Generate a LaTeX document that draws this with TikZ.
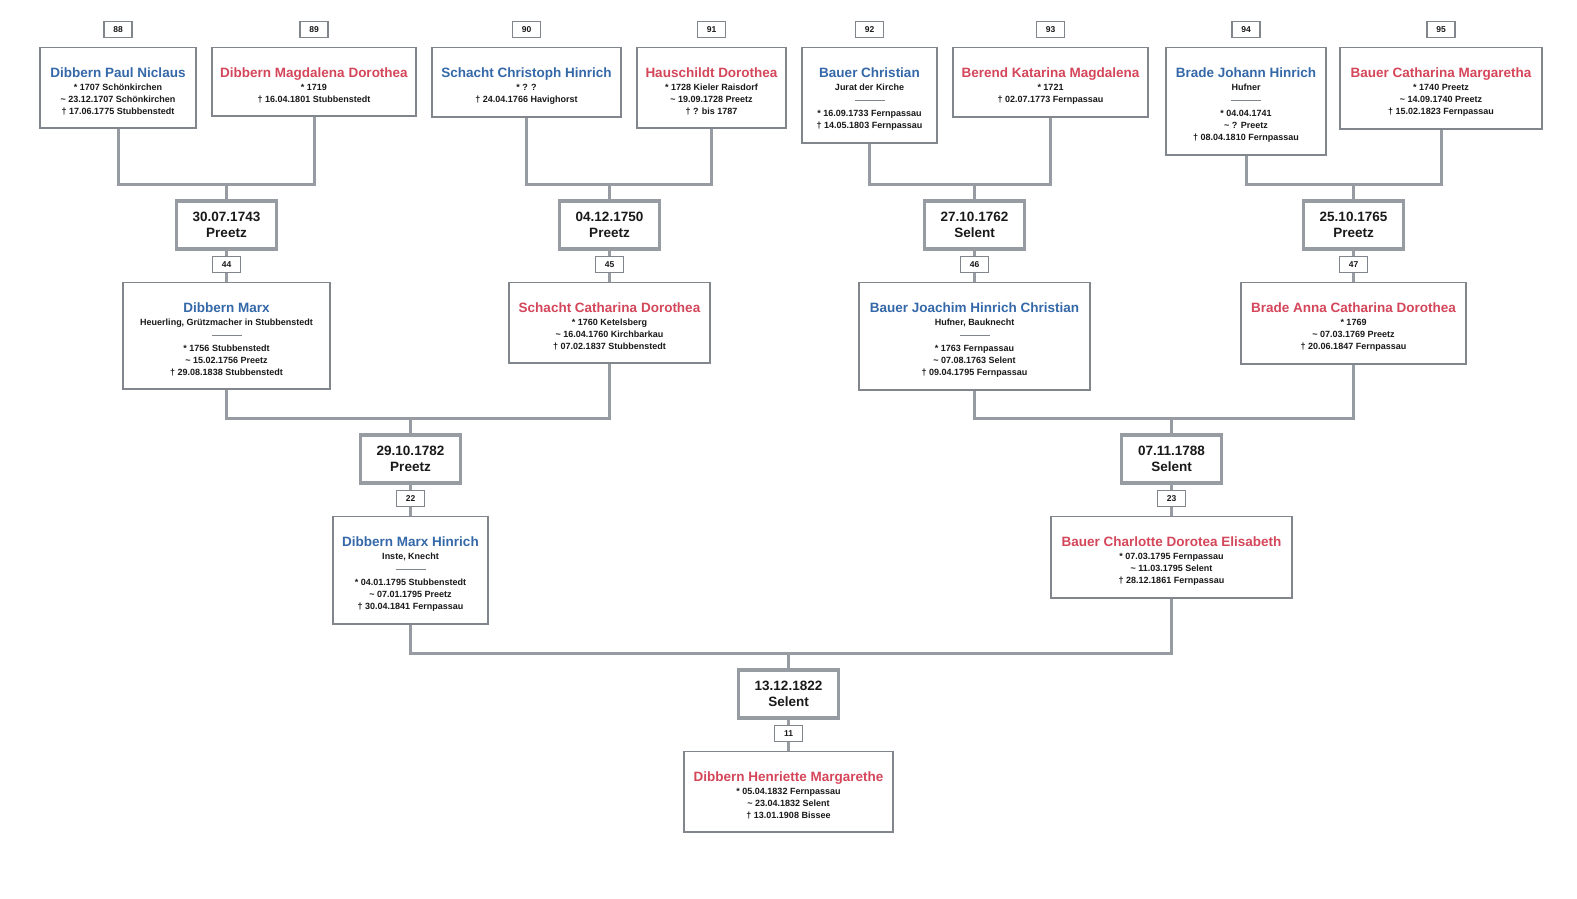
\documentclass[tikz,border=0pt]{standalone}
\usepackage{fontspec}
\setmainfont{Liberation Sans}
\usetikzlibrary{positioning}
\definecolor{ahnblau}{RGB}{52,104,168}
\definecolor{ahnrot}{RGB}{212,70,90}
\definecolor{rahmen}{RGB}{128,134,140}
\definecolor{linie}{RGB}{150,156,162}
\definecolor{schrift}{RGB}{25,25,25}
\newcommand{\mann}[1]{\rule{0pt}{17.5pt}{\fontsize{13.5}{15}\selectfont\color{ahnblau}#1}}
\newcommand{\frau}[1]{\rule{0pt}{17.5pt}{\fontsize{13.5}{15}\selectfont\color{ahnrot}#1}}
\newcommand{\strich}{\textcolor{rahmen}{\rule[3pt]{30pt}{0.8pt}}}
\newcommand{\taufe}{\textasciitilde}
\tikzset{
  person/.style={
    draw=rahmen, line width=1.4pt, fill=white, text=schrift,
    font=\fontsize{9}{12}\selectfont\bfseries, align=center,
    minimum width=#1, inner xsep=8pt, inner ysep=12.5pt, anchor=north
  },
  wedding/.style={
    draw=linie, line width=3.5pt, fill=white, text=schrift,
    font=\fontsize{13.5}{16}\selectfont\bfseries, align=center,
    minimum width=100pt, minimum height=48pt, inner sep=2pt
  },
  nummer/.style={
    draw=rahmen, line width=1.2pt, fill=white, text=schrift,
    font=\fontsize{8.5}{10}\selectfont\bfseries,
    minimum width=28pt, minimum height=16pt, inner sep=0pt
  },
  link/.style={draw=linie, line width=3pt}
}

\begin{document}
\begin{tikzpicture}[x=1pt, y=-1pt]
  \useasboundingbox[fill=white] (0,0) rectangle (1577,898);

  \node[person=156] (p88) at (118,47) {\mann{Dibbern Paul Niclaus}\\[1pt]* 1707 Schönkirchen\\\taufe{} 23.12.1707 Schönkirchen\\† 17.06.1775 Stubbenstedt};
  \node[person=204] (p89) at (314,47) {\frau{Dibbern Magdalena Dorothea}\\[1pt]* 1719\\† 16.04.1801 Stubbenstedt};
  \node[person=189] (p90) at (526.5,47) {\mann{Schacht Christoph Hinrich}\\[1pt]* ? ?\\† 24.04.1766 Havighorst};
  \node[person=149] (p91) at (711.5,47) {\frau{Hauschildt Dorothea}\\[1pt]* 1728 Kieler Raisdorf\\\taufe{} 19.09.1728 Preetz\\† ? bis 1787};
  \node[person=135] (p92) at (869.5,47) {\mann{Bauer Christian}\\[1pt]Jurat der Kirche\\[1pt]\strich\\[1pt]* 16.09.1733 Fernpassau\\† 14.05.1803 Fernpassau};
  \node[person=195] (p93) at (1050.5,47) {\frau{Berend Katarina Magdalena}\\[1pt]* 1721\\† 02.07.1773 Fernpassau};
  \node[person=160] (p94) at (1246,47) {\mann{Brade Johann Hinrich}\\[1pt]Hufner\\[1pt]\strich\\[1pt]* 04.04.1741\\\taufe{} ? Preetz\\† 08.04.1810 Fernpassau};
  \node[person=202] (p95) at (1441,47) {\frau{Bauer Catharina Margaretha}\\[1pt]* 1740 Preetz\\\taufe{} 14.09.1740 Preetz\\† 15.02.1823 Fernpassau};

  \node[nummer, above=9pt of p88] (n88) {88};
  \node[nummer, above=9pt of p89] (n89) {89};
  \node[nummer, above=9pt of p90] (n90) {90};
  \node[nummer, above=9pt of p91] (n91) {91};
  \node[nummer, above=9pt of p92] (n92) {92};
  \node[nummer, above=9pt of p93] (n93) {93};
  \node[nummer, above=9pt of p94] (n94) {94};
  \node[nummer, above=9pt of p95] (n95) {95};

  \node[person=207] (p44) at (226.5,282) {\mann{Dibbern Marx}\\[1pt]Heuerling, Grützmacher in Stubbenstedt\\[1pt]\strich\\[1pt]* 1756 Stubbenstedt\\\taufe{} 15.02.1756 Preetz\\† 29.08.1838 Stubbenstedt};
  \node[person=201] (p45) at (609.5,282) {\frau{Schacht Catharina Dorothea}\\[1pt]* 1760 Ketelsberg\\\taufe{} 16.04.1760 Kirchbarkau\\† 07.02.1837 Stubbenstedt};
  \node[person=231] (p46) at (974.5,282) {\mann{Bauer Joachim Hinrich Christian}\\[1pt]Hufner, Bauknecht\\[1pt]\strich\\[1pt]* 1763 Fernpassau\\\taufe{} 07.08.1763 Selent\\† 09.04.1795 Fernpassau};
  \node[person=225] (p47) at (1353.5,282) {\frau{Brade Anna Catharina Dorothea}\\[1pt]* 1769\\\taufe{} 07.03.1769 Preetz\\† 20.06.1847 Fernpassau};

  \node[nummer, above=9pt of p44] (n44) {44};
  \node[nummer, above=9pt of p45] (n45) {45};
  \node[nummer, above=9pt of p46] (n46) {46};
  \node[nummer, above=9pt of p47] (n47) {47};
  \node[wedding, above=5pt of n44] (e44) {30.07.1743\\Preetz};
  \node[wedding, above=5pt of n45] (e45) {04.12.1750\\Preetz};
  \node[wedding, above=5pt of n46] (e46) {27.10.1762\\Selent};
  \node[wedding, above=5pt of n47] (e47) {25.10.1765\\Preetz};
  \coordinate[above=15pt of e44] (j44);
  \coordinate[above=15pt of e45] (j45);
  \coordinate[above=15pt of e46] (j46);
  \coordinate[above=15pt of e47] (j47);

  \node[person=155] (p22) at (410.5,516) {\mann{Dibbern Marx Hinrich}\\[1pt]Inste, Knecht\\[1pt]\strich\\[1pt]* 04.01.1795 Stubbenstedt\\\taufe{} 07.01.1795 Preetz\\† 30.04.1841 Fernpassau};
  \node[person=241] (p23) at (1171.5,516) {\frau{Bauer Charlotte Dorotea Elisabeth}\\[1pt]* 07.03.1795 Fernpassau\\\taufe{} 11.03.1795 Selent\\† 28.12.1861 Fernpassau};
  \node[nummer, above=9pt of p22] (n22) {22};
  \node[nummer, above=9pt of p23] (n23) {23};
  \node[wedding, above=5pt of n22] (e22) {29.10.1782\\Preetz};
  \node[wedding, above=5pt of n23] (e23) {07.11.1788\\Selent};
  \coordinate[above=15pt of e22] (j22);
  \coordinate[above=15pt of e23] (j23);

  \node[person=209] (p11) at (788.5,751) {\frau{Dibbern Henriette Margarethe}\\[1pt]* 05.04.1832 Fernpassau\\\taufe{} 23.04.1832 Selent\\† 13.01.1908 Bissee};
  \node[nummer, above=9pt of p11] (n11) {11};
  \node[wedding, above=5pt of n11] (e11) {13.12.1822\\Selent};
  \coordinate[above=15pt of e11] (j11);

  \draw[link] (p88.south) |- (j44) -| (p89.south);
  \draw[link] (p90.south) |- (j45) -| (p91.south);
  \draw[link] (p92.south) |- (j46) -| (p93.south);
  \draw[link] (p94.south) |- (j47) -| (p95.south);
  \draw[link] (p44.south) |- (j22) -| (p45.south);
  \draw[link] (p46.south) |- (j23) -| (p47.south);
  \draw[link] (p22.south) |- (j11) -| (p23.south);

  \draw[link] (j44) -- (e44) (e44) -- (n44) (n44) -- (p44);
  \draw[link] (j45) -- (e45) (e45) -- (n45) (n45) -- (p45);
  \draw[link] (j46) -- (e46) (e46) -- (n46) (n46) -- (p46);
  \draw[link] (j47) -- (e47) (e47) -- (n47) (n47) -- (p47);
  \draw[link] (j22) -- (e22) (e22) -- (n22) (n22) -- (p22);
  \draw[link] (j23) -- (e23) (e23) -- (n23) (n23) -- (p23);
  \draw[link] (j11) -- (e11) (e11) -- (n11) (n11) -- (p11);
\end{tikzpicture}
\end{document}
